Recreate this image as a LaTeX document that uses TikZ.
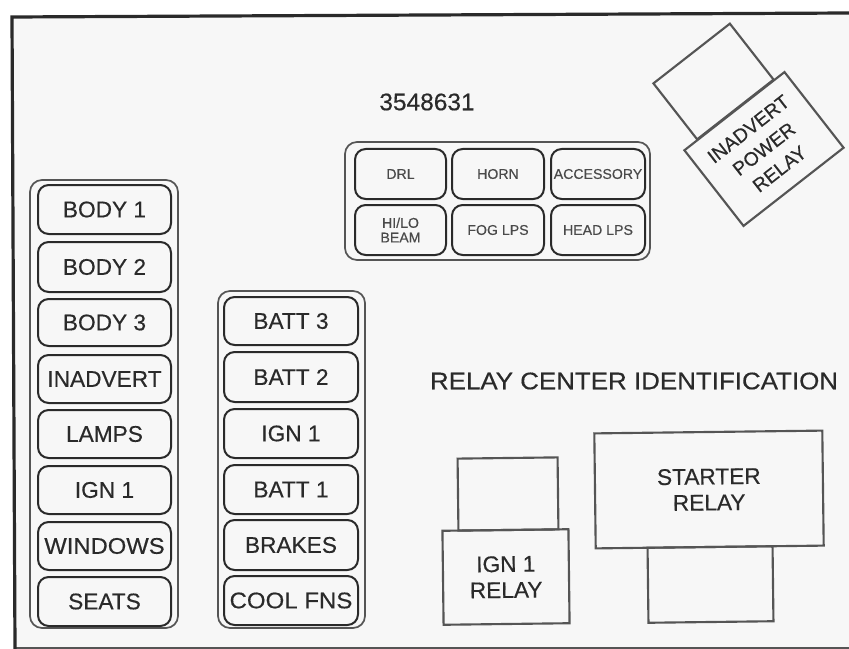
\documentclass[tikz,border=0pt]{standalone}
\usepackage{fontspec}
\setmainfont[FakeBold=0.4]{Liberation Sans}
\definecolor{paper}{HTML}{F7F7F7}
\definecolor{ink}{HTML}{2A2A2A}
\definecolor{ink2}{HTML}{555555}
\tikzset{
  px/.style={x=0.75pt,y=-0.75pt},
  fuse/.style={draw=ink,line width=1.5pt,rounded corners=8pt,inner sep=0pt,align=center,text=ink,font=\fontsize{17}{17}\selectfont},
  minifuse/.style={fuse,font=\fontsize{10.6}{11}\selectfont,text=ink!85!white},
  group/.style={draw=ink2,line width=1.3pt,rounded corners=9pt,inner sep=0pt},
  relay/.style={draw=ink2,line width=1.6pt,inner sep=0pt,align=center,text=ink,font=\fontsize{17}{19.5}\selectfont},
  tiltrelay/.style={relay,rotate=38,font=\fontsize{14.5}{19}\selectfont},
  level/.style={relay,rotate=0.7},
  label/.style={inner sep=0pt,text=ink,font=\fontsize{18}{18}\selectfont}
}
\newcommand{\boxnode}[7]{\node[#1,minimum width=#5*0.75pt-#3*0.75pt,minimum height=#6*0.75pt-#4*0.75pt] (#2) at ({(#3+#5)/2},{(#4+#6)/2}) {#7};}
\begin{document}
\begin{tikzpicture}[px]
\useasboundingbox (0,0) rectangle (849,649);
\fill[white] (0,0) rectangle (849,649);
\fill[paper] (12,17) -- (849,13) -- (849,648) -- (15,648) -- cycle;
\draw[ink2,line width=1.2pt] (15,648) -- (849,648);
\draw[ink,line width=2.4pt] (849,13) -- (12,17) -- (15,649);
% left group
\boxnode{group}{gl}{30}{180}{178}{628}{}
\boxnode{fuse}{a1}{38}{185}{171}{234}{BODY 1}
\boxnode{fuse}{a2}{38}{242}{171}{292}{BODY 2}
\boxnode{fuse}{a3}{38}{299}{171}{346}{BODY 3}
\boxnode{fuse}{a4}{38}{355}{171}{403}{INADVERT}
\boxnode{fuse}{a5}{38}{410}{171}{458}{LAMPS}
\boxnode{fuse}{a6}{38}{466}{171}{514}{IGN 1}
\boxnode{fuse}{a7}{38}{522}{171}{570}{\scalebox{1.05}[1]{WINDOWS}}
\boxnode{fuse}{a8}{38}{577}{171}{626}{SEATS}
% middle group
\boxnode{group}{gm}{218}{291}{365}{628}{}
\boxnode{fuse}{b1}{224}{297}{358}{345}{BATT 3}
\boxnode{fuse}{b2}{224}{352}{358}{402}{BATT 2}
\boxnode{fuse}{b3}{224}{409}{358}{458}{IGN 1}
\boxnode{fuse}{b4}{224}{465}{358}{514}{BATT 1}
\boxnode{fuse}{b5}{224}{520}{358}{570}{BRAKES}
\boxnode{fuse}{b6}{224}{576}{358}{625}{\scalebox{1.06}[1]{COOL FNS}}
% top group
\boxnode{group}{gt}{345}{142}{650}{260}{}
\boxnode{minifuse}{c1}{355}{149}{446}{199}{DRL}
\boxnode{minifuse}{c2}{452}{149}{544}{199}{HORN}
\boxnode{minifuse}{c3}{551}{149}{645}{199}{ACCESSORY}
\boxnode{minifuse}{c4}{355}{205}{446}{255}{HI/LO\\BEAM}
\boxnode{minifuse}{c5}{452}{205}{544}{255}{FOG LPS}
\boxnode{minifuse}{c6}{551}{205}{645}{255}{HEAD LPS}
% labels
\node[label] (num) at (427,102) {\scalebox{1.02}[1]{3548631}};
\node[label] (title) at (634,381) {\scalebox{1.08}[1]{RELAY CENTER IDENTIFICATION}};
% inadvert relay
\node[tiltrelay,minimum width=97*0.75pt,minimum height=71*0.75pt] (r1a) at (713.5,81.5) {};
\node[tiltrelay,minimum width=127*0.75pt,minimum height=96*0.75pt] (r1b) at (764,149) {INADVERT\\POWER\\RELAY};
% ign relay
\boxnode{level}{r2a}{458}{458}{558}{530}{}
\boxnode{level}{r2b}{443}{530}{569}{624}{IGN 1\\RELAY}
% starter relay
\boxnode{level}{r3b}{648}{547}{773}{622}{}
\boxnode{level}{r3a}{595}{432}{823}{547}{STARTER\\RELAY}
\end{tikzpicture}
\end{document}
